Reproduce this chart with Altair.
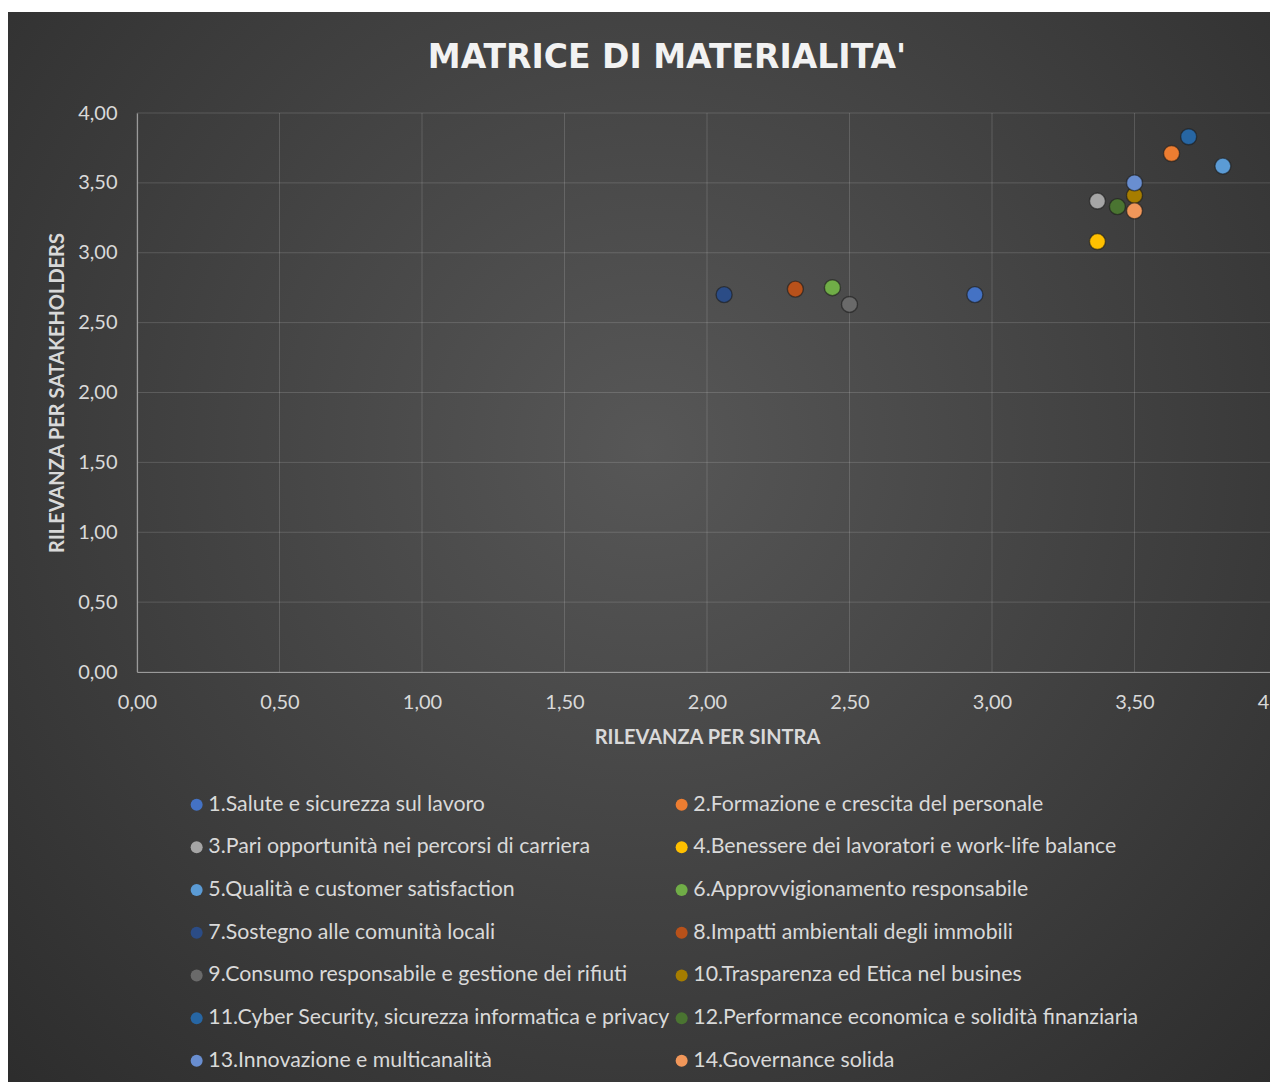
import altair as alt
import pandas as pd

names = [
    "1.Salute e sicurezza sul lavoro",
    "2.Formazione e crescita del personale",
    "3.Pari opportunità nei percorsi di carriera",
    "4.Benessere dei lavoratori e work-life balance",
    "5.Qualità e customer satisfaction",
    "6.Approvvigionamento responsabile",
    "7.Sostegno alle comunità locali",
    "8.Impatti ambientali degli immobili",
    "9.Consumo responsabile e gestione dei rifiuti",
    "10.Trasparenza ed Etica nel busines",
    "11.Cyber Security, sicurezza informatica e privacy",
    "12.Performance economica e solidità finanziaria",
    "13.Innovazione e multicanalità",
    "14.Governance solida",
]
rilevanza_sintra = [2.94, 3.63, 3.37, 3.37, 3.81, 2.44, 2.06, 2.31, 2.50, 3.50, 3.69, 3.44, 3.50, 3.50]
rilevanza_stakeholders = [2.70, 3.71, 3.37, 3.08, 3.62, 2.75, 2.70, 2.74, 2.63, 3.41, 3.83, 3.33, 3.50, 3.30]
colors = ["#4472C4", "#ED7D31", "#A5A5A5", "#FFC000", "#5B9BD5", "#70AD47", "#2B4C86",
          "#B8511A", "#6A6A6A", "#A67D00", "#2766A3", "#4A7431", "#698ED0", "#F1975A"]
tick_values = [0, 0.5, 1, 1.5, 2, 2.5, 3, 3.5, 4]
chart_title = ["MATRICE DI MATERIALITA'"]

df = pd.DataFrame({"tema": names, "sintra": rilevanza_sintra, "stake": rilevanza_stakeholders})
ticks_df = pd.DataFrame({"v": tick_values})

# legend is filled column by column: odd items left, even items right
legend_order = names[0::2] + names[1::2]
legend_colors = colors[0::2] + colors[1::2]

# the plot area runs 1140 px wide, but the picture is cut at its right edge (1133 px visible)
W, H = 1133, 559
FULL_W = 1140
label_expr = "replace(format(datum.value, '.2f'), '.', ',')"
txt = "#d9d9d9"
font = "Lato"

x_scale = alt.Scale(domain=[0, 4], range=[0, FULL_W], nice=False, zero=True)
y_scale = alt.Scale(domain=[0, 4], nice=False, zero=True)

bg = alt.Chart(pd.DataFrame({"k": [0]})).mark_rect(
    fill=alt.RadialGradient(
        gradient="radial",
        stops=[alt.GradientStop(color="#575757", offset=0),
               alt.GradientStop(color="#2a2a2a", offset=1)],
        x1=0.5, y1=0.42, x2=0.5, y2=0.42, r1=0, r2=0.75,
    )
).encode(
    x=alt.value(-129), x2=alt.value(1150), y=alt.value(-101), y2=alt.value(975)
)

title = alt.Chart(pd.DataFrame({"t": chart_title})).mark_text(
    font="DejaVu Sans", fontSize=33, fontWeight="bold", color="#f2f2f2", baseline="middle", align="center"
).encode(text="t:N", x=alt.value(530), y=alt.value(-55))

vgrid = alt.Chart(ticks_df).mark_rule(color="#ffffff", opacity=0.15, strokeWidth=1).encode(
    x=alt.X("v:Q", scale=x_scale)
)
hgrid = alt.Chart(ticks_df).mark_rule(color="#ffffff", opacity=0.15, strokeWidth=1).encode(
    y=alt.Y("v:Q", scale=y_scale)
)

axis_common = dict(values=tick_values, labelExpr=label_expr, zindex=1, grid=False, ticks=False,
                   labelFlush=False, labelFont=font, labelFontSize=20, labelColor=txt,
                   titleFont=font, titleFontSize=20, titleFontWeight="bold", titleColor=txt,
                   domainColor="#9a9a9a", domainWidth=1.2)

points = alt.Chart(df).mark_point(
    filled=True, size=256, opacity=1, stroke="#1a1a1a", strokeWidth=1.4, strokeOpacity=0.6
).encode(
    x=alt.X("sintra:Q", title="RILEVANZA PER SINTRA", scale=x_scale,
            axis=alt.Axis(titlePadding=15, labelPadding=20, titleX=570, **axis_common)),
    y=alt.Y("stake:Q", title="RILEVANZA PER SATAKEHOLDERS", scale=y_scale,
            axis=alt.Axis(titlePadding=10, labelPadding=20, **axis_common)),
    color=alt.Color("tema:N", scale=alt.Scale(domain=legend_order, range=legend_colors),
                    legend=alt.Legend(title=None, orient="none", legendX=49, legendY=681,
                                      columns=2, columnPadding=1, rowPadding=20.7,
                                      symbolType="circle", symbolSize=144, symbolStrokeWidth=0,
                                      labelFontSize=21.3, labelColor=txt, labelFont=font,
                                      labelLimit=700, labelOffset=1)),
    tooltip=["tema", "sintra", "stake"],
)

chart = alt.layer(bg, title, vgrid, hgrid, points).properties(
    width=W, height=H,
    background="white",
    autosize=alt.AutoSizeParams(type="none"),
    padding={"left": 137, "top": 113, "right": 0, "bottom": 410},
).configure_view(stroke=None)

chart.save("out.html", embed_options={"renderer": "svg", "actions": False})
